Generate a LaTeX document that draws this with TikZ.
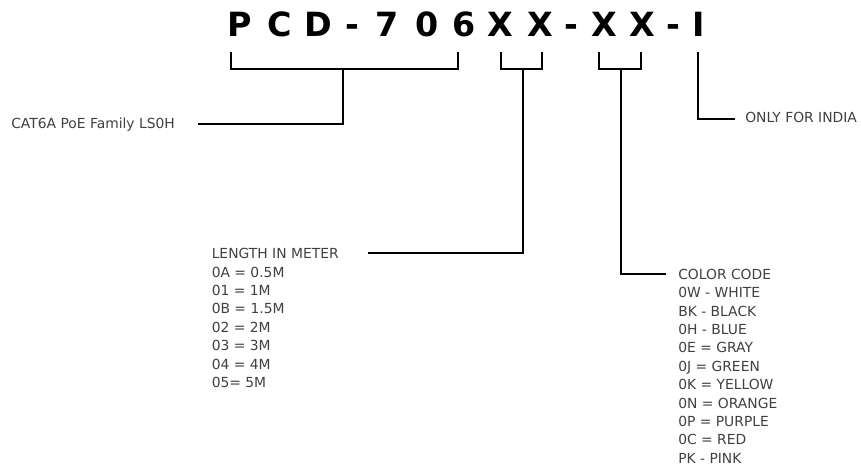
\documentclass[tikz,border=0pt]{standalone}
\usepackage{fontspec}
\setmainfont{DejaVu Sans}
\usepackage{tikz}
\usetikzlibrary{positioning}
\usepackage{xcolor}
\definecolor{labelgray}{RGB}{64,64,64}

\begin{document}
\begin{tikzpicture}[x=0.75pt, y=-0.75pt,
  codechar/.style={font=\bfseries\fontsize{25}{30}\selectfont, anchor=base, inner sep=0pt},
  lbl/.style={font=\fontsize{10.4}{13.8}\selectfont, text=labelgray, inner sep=0pt, align=left},
  bracket/.style={line width=1.5pt}]
  \useasboundingbox (0,0) rectangle (861,466);

  % part number, one glyph per node
  \foreach \ch/\cx [count=\i] in {P/240, C/279.5, D/318.5, -/352, 7/387.5, 0/427.5, 6/464,
      X/500.5, X/540, -/571.5, X/604.5, X/642.5, -/673, I/698.5}
    \node[codechar] (c\i) at (\cx,37) {\ch};

  % labels
  \node[lbl, anchor=base west] (family) at (11,128.5) {CAT6A PoE Family LS0H};
  \node[lbl, anchor=base west] (india) at (745,122.7) {ONLY FOR INDIA};
  \node[lbl, anchor=north west] (length) at (211.5,248.2) {LENGTH IN METER\\0A = 0.5M\\01 = 1M\\0B = 1.5M\\02 = 2M\\03 = 3M\\04 = 4M\\05= 5M};
  \node[lbl, anchor=north west] (colour) at (678,268.8) {COLOR CODE\\0W - WHITE\\BK - BLACK\\0H - BLUE\\0E = GRAY\\0J = GREEN\\0K = YELLOW\\0N = ORANGE\\0P = PURPLE\\0C = RED\\PK - PINK};

  % bracket ends and leader ends
  \coordinate (pcdL) at (231,52);   \coordinate (pcdR) at (458,52);   \coordinate (pcdM) at (343,69);
  \coordinate (lenL) at (501,52);   \coordinate (lenR) at (542,52);   \coordinate (lenM) at (522.5,69);
  \coordinate (colL) at (599,52);   \coordinate (colR) at (640.5,52); \coordinate (colM) at (621,69);
  \coordinate (indT) at (698,52);
  \coordinate (famEnd) at (198,124);
  \coordinate (lenEnd) at (368,253.3);
  \coordinate (colEnd) at (666,274);
  \coordinate (indEnd) at (735,119);

  % brackets
  \draw[bracket] (pcdL) -- ++(0,17) -| (pcdR);
  \draw[bracket] (lenL) -- ++(0,17) -| (lenR);
  \draw[bracket] (colL) -- ++(0,17) -| (colR);

  % leaders
  \draw[bracket] (pcdM) |- (famEnd);
  \draw[bracket] (lenM) |- (lenEnd);
  \draw[bracket] (colM) |- (colEnd);
  \draw[bracket] (indT) |- (indEnd);
\end{tikzpicture}
\end{document}
